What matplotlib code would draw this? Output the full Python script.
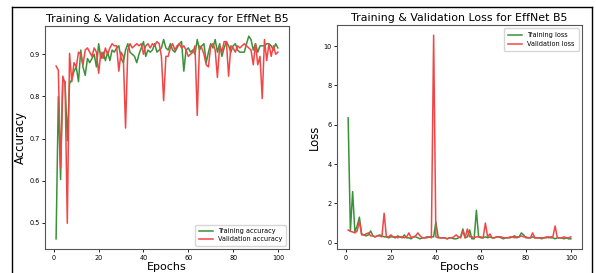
import matplotlib
matplotlib.use("Agg")
import matplotlib.pyplot as plt
from matplotlib.lines import Line2D

epochs = list(range(1, 101))

train_acc = [0.462, 0.80, 0.603, 0.84, 0.835, 0.695, 0.83, 0.84, 0.86, 0.87,
             0.835, 0.91, 0.87, 0.85, 0.89, 0.88, 0.89, 0.90, 0.87, 0.925,
             0.89, 0.905, 0.885, 0.905, 0.885, 0.91, 0.905, 0.915, 0.92, 0.89,
             0.88, 0.91, 0.925, 0.905, 0.90, 0.895, 0.88, 0.90, 0.915, 0.93,
             0.895, 0.91, 0.905, 0.91, 0.925, 0.905, 0.91, 0.915, 0.935, 0.915,
             0.91, 0.925, 0.91, 0.905, 0.915, 0.925, 0.93, 0.86, 0.91, 0.915,
             0.905, 0.91, 0.90, 0.935, 0.91, 0.92, 0.925, 0.88, 0.905, 0.925,
             0.915, 0.935, 0.905, 0.925, 0.895, 0.915, 0.93, 0.92, 0.905, 0.92,
             0.925, 0.91, 0.905, 0.905, 0.905, 0.925, 0.943, 0.935, 0.91, 0.925,
             0.905, 0.92, 0.92, 0.92, 0.925, 0.925, 0.92, 0.91, 0.925, 0.915]

val_acc = [0.872, 0.862, 0.63, 0.848, 0.83, 0.499, 0.902, 0.835, 0.88, 0.87,
           0.905, 0.90, 0.875, 0.91, 0.915, 0.905, 0.895, 0.915, 0.905, 0.855,
           0.905, 0.89, 0.915, 0.90, 0.915, 0.925, 0.92, 0.92, 0.86, 0.905,
           0.895, 0.725, 0.91, 0.925, 0.915, 0.92, 0.925, 0.92, 0.925, 0.90,
           0.92, 0.925, 0.915, 0.925, 0.92, 0.93, 0.925, 0.895, 0.79, 0.895,
           0.895, 0.915, 0.925, 0.91, 0.92, 0.925, 0.915, 0.92, 0.91, 0.895,
           0.90, 0.905, 0.92, 0.755, 0.92, 0.915, 0.90, 0.875, 0.87, 0.92,
           0.925, 0.91, 0.845, 0.92, 0.905, 0.93, 0.93, 0.848, 0.92, 0.915,
           0.905, 0.92, 0.915, 0.92, 0.925, 0.92, 0.915, 0.91, 0.875, 0.925,
           0.875, 0.895, 0.795, 0.935, 0.885, 0.925, 0.895, 0.92, 0.90, 0.905]

train_loss = [6.35, 0.6, 2.6, 0.55, 0.85, 1.3, 0.45, 0.4, 0.35, 0.4,
              0.6, 0.35, 0.3, 0.35, 0.4, 0.35, 0.3, 0.3, 0.25, 0.3,
              0.3, 0.25, 0.35, 0.3, 0.25, 0.4, 0.25, 0.25, 0.2, 0.3,
              0.3, 0.25, 0.2, 0.25, 0.25, 0.3, 0.3, 0.3, 0.3, 1.05,
              0.3, 0.25, 0.25, 0.25, 0.2, 0.25, 0.25, 0.2, 0.2, 0.25,
              0.3, 0.7, 0.25, 0.3, 0.65, 0.2, 0.2, 1.65, 0.3, 0.25,
              0.25, 0.3, 0.25, 0.3, 0.25, 0.25, 0.3, 0.3, 0.25, 0.2,
              0.25, 0.25, 0.25, 0.3, 0.35, 0.25, 0.3, 0.5, 0.4, 0.25,
              0.25, 0.25, 0.3, 0.25, 0.25, 0.25, 0.2, 0.25, 0.25, 0.3,
              0.25, 0.25, 0.2, 0.25, 0.25, 0.25, 0.2, 0.25, 0.2, 0.2]

val_loss = [0.65, 0.58, 0.55, 0.5, 0.6, 1.1, 0.4, 0.4, 0.45, 0.5,
            0.35, 0.35, 0.3, 0.35, 0.35, 0.3, 1.5, 0.3, 0.3, 0.4,
            0.3, 0.3, 0.25, 0.3, 0.3, 0.25, 0.3, 0.5, 0.25, 0.3,
            0.35, 0.5, 0.35, 0.25, 0.25, 0.25, 0.3, 0.25, 10.55, 0.3,
            0.25, 0.25, 0.25, 0.25, 0.2, 0.25, 0.25, 0.3, 0.4, 0.3,
            0.25, 0.6, 0.25, 0.7, 0.3, 0.3, 0.25, 0.3, 0.3, 0.3,
            0.25, 1.0, 0.3, 0.45, 0.25, 0.25, 0.3, 0.3, 0.3, 0.25,
            0.25, 0.25, 0.3, 0.3, 0.25, 0.3, 0.3, 0.35, 0.3, 0.3,
            0.25, 0.25, 0.5, 0.25, 0.25, 0.25, 0.25, 0.25, 0.3, 0.25,
            0.3, 0.3, 0.85, 0.25, 0.25, 0.25, 0.3, 0.25, 0.25, 0.3]

W, H = 596, 273
fig = plt.figure(figsize=(W / 100, H / 100), dpi=100)

def box(l, t, r, b):
    return [l / W, 1 - b / H, (r - l) / W, (b - t) / H]

ax1 = fig.add_axes(box(45, 26, 289, 249))
ax2 = fig.add_axes(box(337, 25, 582, 249))

green = "#3a913a"
red = "#f24646"

ax1.plot(epochs, train_acc, color=green, lw=1.1, label="Training accuracy")
ax1.plot(epochs, val_acc, color=red, lw=1.1, label="Validation accuracy")
ax1.set_title("Training & Validation Accuracy for EffNet B5", fontsize=7.9, pad=3)
ax1.set_xlabel("Epochs", fontsize=8.0, labelpad=1)
ax1.set_ylabel("Accuracy", fontsize=8.4, labelpad=2)
ax1.set_xticks([0, 20, 40, 60, 80, 100])
ax1.set_yticks([0.5, 0.6, 0.7, 0.8, 0.9])
ax1.legend(loc="lower right", fontsize=4.7, handlelength=2.2, borderpad=0.5, labelspacing=0.4)

ax2.plot(epochs, train_loss, color=green, lw=1.1, label="Training loss")
ax2.plot(epochs, val_loss, color=red, lw=1.1, label="Validation loss")
ax2.set_title("Training & Validation Loss for EffNet B5", fontsize=7.9, pad=3)
ax2.set_xlabel("Epochs", fontsize=8.0, labelpad=1)
ax2.set_ylabel("Loss", fontsize=8.4, labelpad=2)
ax2.set_xticks([0, 20, 40, 60, 80, 100])
ax2.set_yticks([0, 2, 4, 6, 8, 10])
ax2.legend(loc="upper right", fontsize=4.7, handlelength=2.2, borderpad=0.6, labelspacing=0.5)

for ax in (ax1, ax2):
    ax.tick_params(labelsize=4.7, length=2.5, width=0.6, pad=1.5)
    for s in ax.spines.values():
        s.set_linewidth(0.8)
        s.set_color("#555555")

# outer frame of the screenshot
fx0, fx1, fy1 = 12 / W, 592 / W, 1 - 7 / H
for xs, ys in [([fx0, fx0], [0, fy1]), ([fx0, fx1], [fy1, fy1]), ([fx1, fx1], [fy1, 0])]:
    fig.add_artist(Line2D(xs, ys, transform=fig.transFigure, color="black", lw=1.0))

fig.savefig("out.png", dpi=100)
